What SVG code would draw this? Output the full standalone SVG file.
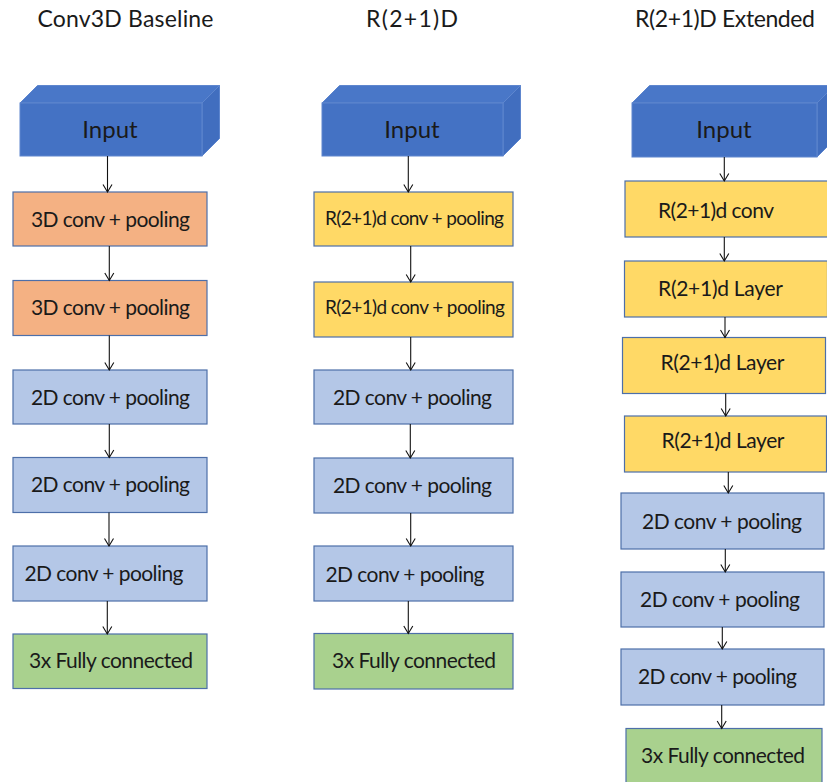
<svg xmlns="http://www.w3.org/2000/svg" width="827" height="782" viewBox="0 0 827 782">
  <style>
    text { font-family: Lato, "Liberation Sans", sans-serif; fill: #1a1a1a; text-anchor: middle; }
    .title { font-size: 23px; }
    .lbl { font-size: 21px; }
    .sm { font-size: 19px; }
    .in { font-size: 24px; }
    .box { stroke: #4D6FA9; stroke-width: 1.2; }
    .c3d { fill: #F4B183; }
    .r21 { fill: #FFD966; }
    .c2d { fill: #B4C7E7; }
    .fc { fill: #A9D18E; }
    .front { fill: #4472C4; stroke: #5E86CE; stroke-width: 1; }
    .top { fill: #4977C8; stroke: #5E86CE; stroke-width: 1; }
    .side { fill: #416EBF; stroke: #5E86CE; stroke-width: 1; }
    .conn line { stroke: #111; stroke-width: 1.1; marker-end: url(#arr); }
  </style>
  <defs>
    <marker id="arr" markerUnits="userSpaceOnUse" markerWidth="12" markerHeight="12" viewBox="-10 -6 12 12" refX="0" refY="0" orient="auto" overflow="visible">
      <path d="M-7.5,-4.5 L0,0 L-7.5,4.5" fill="none" stroke="#111" stroke-width="1.1"/>
    </marker>
  </defs>
  <rect width="827" height="782" fill="#FFFFFF"/>

  <!-- column titles -->
  <text class="title" x="125.5" y="26.5" textLength="176">Conv3D Baseline</text>
  <text class="title" x="412" y="26.5" textLength="92">R(2+1)D</text>
  <text class="title" x="725" y="26.5" textLength="180">R(2+1)D Extended</text>

  <!-- Column 1: Conv3D baseline -->
  <g id="c1-input">
    <polygon class="top" points="20,103 37.5,85.5 219.5,85.5 202,103"/>
    <polygon class="side" points="202,103 219.5,85.5 219.5,138.5 202,156"/>
    <rect class="front" x="20" y="103" width="182" height="53"/>
    <text class="in" x="110" y="138">Input</text>
  </g>
  <g id="c1-conv3d-1"><rect class="box c3d" x="13" y="192" width="194" height="54"/><text class="lbl" x="110.5" y="226.5" textLength="159">3D conv + pooling</text></g>
  <g id="c1-conv3d-2"><rect class="box c3d" x="13" y="280.5" width="194" height="55"/><text class="lbl" x="110.5" y="315" textLength="159">3D conv + pooling</text></g>
  <g id="c1-conv2d-1"><rect class="box c2d" x="13" y="370" width="194" height="54"/><text class="lbl" x="110.5" y="405" textLength="159">2D conv + pooling</text></g>
  <g id="c1-conv2d-2"><rect class="box c2d" x="13" y="457.5" width="194" height="55"/><text class="lbl" x="110.5" y="492" textLength="159">2D conv + pooling</text></g>
  <g id="c1-conv2d-3"><rect class="box c2d" x="13" y="546" width="194" height="55"/><text class="lbl" x="104" y="580.5" textLength="159">2D conv + pooling</text></g>
  <g id="c1-fc"><rect class="box fc" x="13" y="634" width="194" height="54.5"/><text class="lbl" x="111" y="668" textLength="164">3x Fully connected</text></g>

  <!-- Column 2: R(2+1)D -->
  <g id="c2-input">
    <polygon class="top" points="322,103 339.5,85.5 520.5,85.5 503,103"/>
    <polygon class="side" points="503,103 520.5,85.5 520.5,138.5 503,156"/>
    <rect class="front" x="322" y="103" width="181" height="53"/>
    <text class="in" x="412" y="138">Input</text>
  </g>
  <g id="c2-r21-1"><rect class="box r21" x="314" y="192" width="199" height="54"/><text class="sm" x="414.5" y="225" textLength="179">R(2+1)d conv + pooling</text></g>
  <g id="c2-r21-2"><rect class="box r21" x="314" y="282" width="199" height="55"/><text class="sm" x="415" y="314" textLength="180">R(2+1)d conv + pooling</text></g>
  <g id="c2-conv2d-1"><rect class="box c2d" x="314" y="370" width="199" height="54"/><text class="lbl" x="412.5" y="405" textLength="159">2D conv + pooling</text></g>
  <g id="c2-conv2d-2"><rect class="box c2d" x="314" y="458" width="199" height="55"/><text class="lbl" x="412.5" y="493" textLength="159">2D conv + pooling</text></g>
  <g id="c2-conv2d-3"><rect class="box c2d" x="314" y="546" width="199" height="55"/><text class="lbl" x="405" y="581.5" textLength="159">2D conv + pooling</text></g>
  <g id="c2-fc"><rect class="box fc" x="314" y="633.5" width="199" height="55.5"/><text class="lbl" x="414" y="668" textLength="164">3x Fully connected</text></g>

  <!-- Column 3: R(2+1)D extended -->
  <g id="c3-input">
    <polygon class="top" points="632,103 649.5,85.5 834.5,85.5 817,103"/>
    <polygon class="side" points="817,103 834.5,85.5 834.5,139.5 817,157"/>
    <rect class="front" x="632" y="103" width="185" height="54"/>
    <text class="in" x="724" y="138">Input</text>
  </g>
  <g id="c3-r21-conv"><rect class="box r21" x="625" y="181" width="203" height="56"/><text class="lbl" x="716" y="218" textLength="116">R(2+1)d conv</text></g>
  <g id="c3-r21-layer-1"><rect class="box r21" x="624.5" y="261" width="203" height="56"/><text class="lbl" x="720.5" y="295.5" textLength="125">R(2+1)d Layer</text></g>
  <g id="c3-r21-layer-2"><rect class="box r21" x="622.5" y="337.5" width="203" height="56"/><text class="lbl" x="722.5" y="369.5" textLength="124">R(2+1)d Layer</text></g>
  <g id="c3-r21-layer-3"><rect class="box r21" x="624.5" y="416" width="202" height="56"/><text class="lbl" x="723" y="447.5" textLength="123">R(2+1)d Layer</text></g>
  <g id="c3-conv2d-1"><rect class="box c2d" x="621" y="493" width="203" height="56"/><text class="lbl" x="722" y="528.5" textLength="160">2D conv + pooling</text></g>
  <g id="c3-conv2d-2"><rect class="box c2d" x="621" y="572" width="203" height="55"/><text class="lbl" x="720" y="606.5" textLength="160">2D conv + pooling</text></g>
  <g id="c3-conv2d-3"><rect class="box c2d" x="621" y="649" width="203" height="56"/><text class="lbl" x="717.5" y="684" textLength="159">2D conv + pooling</text></g>
  <g id="c3-fc"><rect class="box fc" x="626" y="728.5" width="196" height="60"/><text class="lbl" x="723" y="762.5" textLength="164">3x Fully connected</text></g>

  <!-- connectors -->
  <g id="connectors" class="conn">
    <line x1="107.5" y1="156" x2="107.5" y2="192"/>
    <line x1="109.3" y1="246" x2="109.3" y2="280.5"/>
    <line x1="109.3" y1="335.5" x2="109.3" y2="370"/>
    <line x1="109.3" y1="424" x2="109.3" y2="457.5"/>
    <line x1="109" y1="512.5" x2="109" y2="546"/>
    <line x1="107.3" y1="601" x2="107.3" y2="634"/>

    <line x1="408.3" y1="156" x2="408.3" y2="192"/>
    <line x1="410.7" y1="246" x2="410.7" y2="282"/>
    <line x1="410.7" y1="337" x2="410.7" y2="370"/>
    <line x1="410.3" y1="424" x2="410.3" y2="458"/>
    <line x1="410.7" y1="513" x2="410.7" y2="546"/>
    <line x1="408.3" y1="601" x2="408.3" y2="633.5"/>

    <line x1="724.3" y1="157" x2="724.3" y2="181"/>
    <line x1="724.3" y1="237" x2="724.3" y2="261"/>
    <line x1="725" y1="317" x2="725" y2="337.5"/>
    <line x1="725.7" y1="393.5" x2="725.7" y2="416"/>
    <line x1="728.3" y1="472" x2="728.3" y2="493"/>
    <line x1="725.3" y1="549" x2="725.3" y2="572"/>
    <line x1="722.3" y1="627" x2="722.3" y2="649"/>
    <line x1="721.7" y1="705" x2="721.7" y2="728.5"/>
  </g>
</svg>
